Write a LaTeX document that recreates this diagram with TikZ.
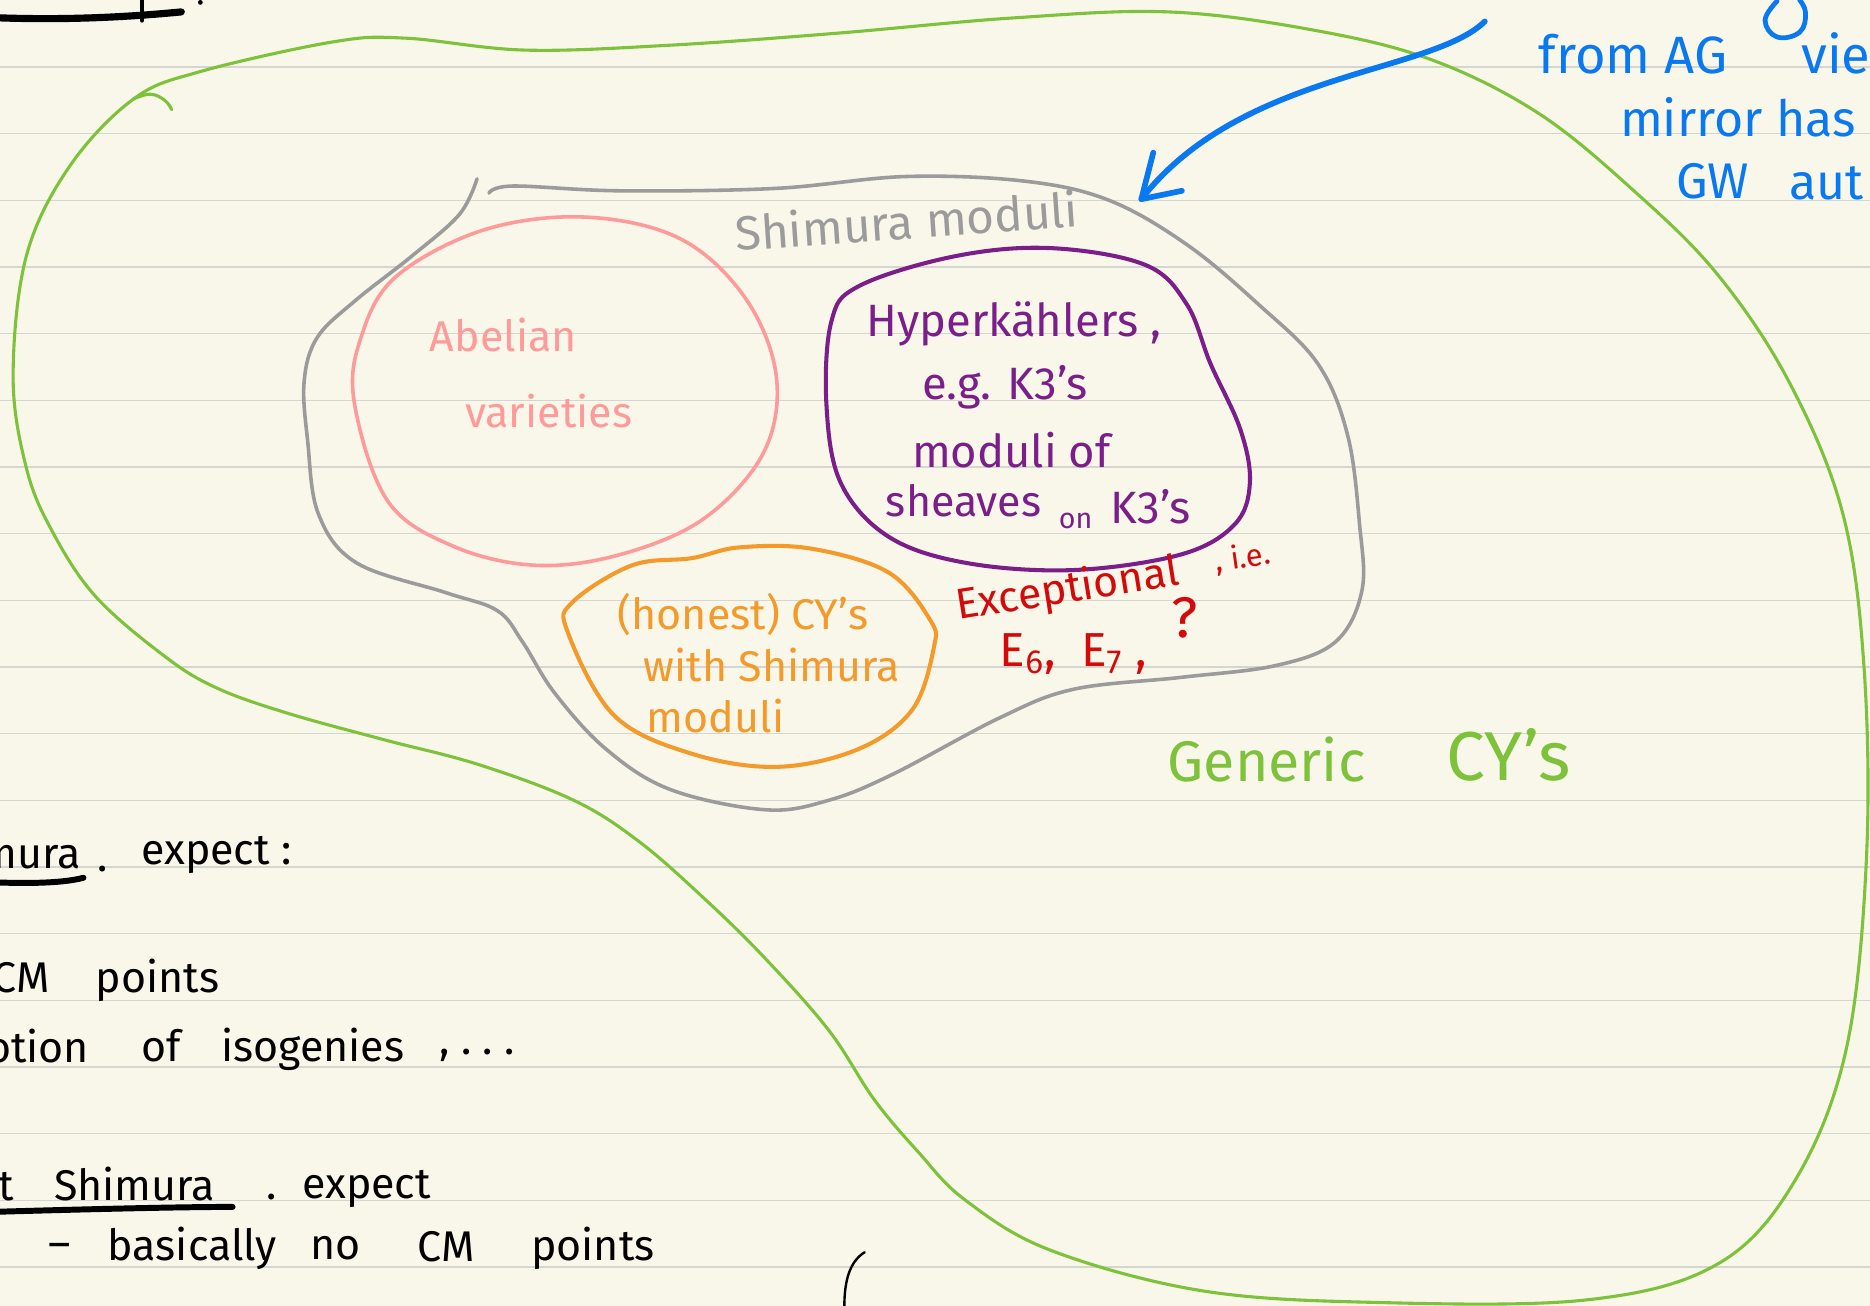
\documentclass[tikz,border=0pt]{standalone}
\usepackage{fontspec}
\setmainfont{Fira Sans}
\definecolor{bg}{HTML}{F8F7EA}
\definecolor{rule}{HTML}{D6D6D0}
\definecolor{cgreen}{HTML}{7DC23A}
\definecolor{cgray}{HTML}{9B9B9B}
\definecolor{cpink}{HTML}{FF9A9A}
\definecolor{cpurple}{HTML}{7B1E8A}
\definecolor{corange}{HTML}{F39A2B}
\definecolor{cred}{HTML}{D30A0A}
\definecolor{cblue}{HTML}{0A78F0}
\tikzset{
  pen/.style={line cap=round,line join=round},
  txt/.style={inner sep=0pt,font=\fontsize{18}{20}\selectfont},
  blk/.style={txt,text=black,font=\fontsize{18}{20}\selectfont},
}
\begin{document}
\begin{tikzpicture}[x=0.5pt,y=-0.5pt]
\useasboundingbox (0,0) rectangle (1568,1095);
\clip (0,0) rectangle (1568,1095);
\fill[bg] (0,0) rectangle (1568,1095);
\foreach \k in {0,...,18} \draw[rule,line width=0.6pt] (0,{56.2+55.9*\k}) -- (1568,{56.2+55.9*\k});

% green blob
\draw[pen,cgreen,line width=1.3pt] plot[smooth cycle,tension=0.6] coordinates {
(112,83) (168,60) (280,35) (340,32) (440,42) (560,38) (700,28) (850,15) (980,10) (1100,25) (1200,50) (1290,95) (1370,160) (1440,230) (1500,320) (1545,430) (1563,560) (1565,720) (1548,880) (1505,990) (1440,1060) (1330,1090) (1150,1092) (1006,1082) (880,1048) (809,1006) (770,966) (733,922) (695,864) (641,803) (589,752) (535,705) (481,671) (401,641) (321,620) (241,598) (182,577) (139,551) (80,500) (43,444) (22,392) (11,316) (22,215) (58,140)};
\draw[pen,cgreen,line width=1.3pt] plot[smooth,tension=0.7] coordinates {(112,83) (126,79) (138,84) (144,92)};

% gray Shimura blob
\draw[pen,cgray,line width=1.5pt] plot[smooth,tension=0.6] coordinates {
(410,162) (430,156) (520,160) (650,158) (760,148) (860,152) (930,168) (995,205) (1055,255) (1105,305) (1130,365) (1140,440) (1142,495) (1120,538) (1070,558) (990,568) (900,578) (838,602) (749,649) (695,671) (642,679) (562,662) (508,628) (465,581) (438,538) (417,512) (374,497) (299,472) (267,431) (258,370) (255,320) (266,283) (298,252) (345,215) (385,180) (400,150)};

% pink
\draw[pen,cpink,line width=1.5pt] plot[smooth cycle,tension=0.6] coordinates {
(490,182) (570,200) (625,250) (651,316) (640,380) (590,435) (520,465) (449,474) (380,458) (325,420) (297,337) (303,282) (332,232) (405,193)};

% purple
\draw[pen,cpurple,line width=1.7pt] plot[smooth cycle,tension=0.6] coordinates {
(720,240) (800,215) (880,208) (960,222) (995,255) (1015,305) (1040,360) (1048,405) (1035,440) (990,465) (900,478) (810,472) (745,450) (705,405) (693,340) (697,270)};

% orange
\draw[pen,corange,line width=1.7pt] plot[smooth cycle,tension=0.6] coordinates {
(480,505) (530,474) (580,468) (620,459) (680,460) (745,480) (780,520) (783,543) (765,595) (720,628) (652,643) (580,632) (515,600) (476,530)};

% blue arrow
\coordinate (arrS) at (1245,18);
\coordinate (arrT) at (957,167);
\draw[pen,cblue,line width=2.4pt] (arrS) .. controls (1200,62) and (1040,60) .. (arrT);
\draw[pen,cblue,line width=2.4pt] (967,128) -- (arrT) -- (991,160);

% texts
\node[txt,text=cgray,font=\fontsize{20}{22}\selectfont,rotate=4] (shim) at (760,185) {Shimura moduli};
\node[txt,text=cpink] (abel) at (422,281) {Abelian};
\node[txt,text=cpink] (var) at (460,345) {varieties};
\node[txt,text=cpurple,font=\fontsize{19}{21}\selectfont] (hk) at (850,272) {Hyperkähler{s} ,};
\node[txt,text=cpurple,font=\fontsize{19}{21}\selectfont] (eg) at (843,325) {e.g. K3's};
\node[txt,text=cpurple,font=\fontsize{19}{21}\selectfont] (mod) at (848,377) {moduli of};
\node[txt,text=cpurple,font=\fontsize{18}{20}\selectfont] (sh) at (808,420) {sheaves};
\node[txt,text=cpurple,font=\fontsize{12}{14}\selectfont] (on) at (902,437) {on};
\node[txt,text=cpurple,font=\fontsize{19}{21}\selectfont] (k3) at (965,425) {K3's};
\node[txt,text=corange] (h1) at (623,515) {(honest) CY's};
\node[txt,text=corange] (h2) at (647,558) {with Shimura};
\node[txt,text=corange] (h3) at (600,600) {moduli};
\node[txt,text=cred,rotate=9] (ex) at (895,495) {Exceptional};
\node[txt,text=cred,font=\fontsize{13}{15}\selectfont,rotate=8] (ie) at (1042,468) {, i.e.};
\node[txt,text=cred,font=\fontsize{20}{22}\selectfont] (e67) at (900,548) {E\textsubscript{6},\ \ E\textsubscript{7}\ ,};
\node[txt,text=cred,font=\fontsize{24}{26}\selectfont] (q) at (993,518) {?};
\node[txt,text=cgreen,font=\fontsize{24}{26}\selectfont] (gen) at (1062,637) {Generic};
\node[txt,text=cgreen,font=\fontsize{29}{31}\selectfont] (cy) at (1265,633) {CY's};
\node[txt,text=cblue,font=\fontsize{22}{24}\selectfont,anchor=west] (b1) at (1290,45) {from AG};
\node[txt,text=cblue,font=\fontsize{22}{24}\selectfont,anchor=west] (b1v) at (1510,45) {view};
\node[txt,text=cblue,font=\fontsize{21}{23}\selectfont,anchor=west] (b2) at (1358,98) {mirror has};
\node[txt,text=cblue,font=\fontsize{21}{23}\selectfont,anchor=west] (b3) at (1405,152) {GW};
\node[txt,text=cblue,font=\fontsize{21}{23}\selectfont,anchor=west] (b3a) at (1500,154) {aut};
\draw[pen,cblue,line width=2pt] plot[smooth,tension=0.7] coordinates {(1490,1) (1480,17) (1490,31) (1509,27) (1514,11) (1509,0)};

% black strokes and text (top-left)
\draw[pen,black,line width=3pt] (0,15) .. controls (60,17) and (110,14) .. (152,10);
\draw[pen,black,line width=2pt] (119,0) -- (119,17);
\fill (168,2) circle (2);

\node[blk,anchor=east] (t1) at (68,714) {Shimura};
\draw[pen,black,line width=2.5pt] (0,740) .. controls (30,741) and (55,740) .. (70,736);
\node[blk] (t1b) at (86,729) {.};
\node[blk,anchor=west] (t2) at (118,717) {expect :};
\node[blk,anchor=east] (t3) at (42,820) {CM};
\node[blk,anchor=west] (t4) at (80,822) {points};
\node[blk,anchor=east] (t5) at (75,877) {notion};
\node[blk,anchor=west] (t6) at (118,877) {of};
\node[blk,anchor=west] (t7) at (185,880) {isogenies};
\node[blk,anchor=west] (t8) at (368,885) {,\ .\ .\ .};
\node[blk,anchor=east] (t9) at (12,995) {not};
\node[blk,anchor=west] (t10) at (45,993) {Shimura};
\draw[pen,black,line width=2.5pt] (0,1016) .. controls (70,1014) and (150,1012) .. (195,1012);
\node[blk] (t11) at (228,1004) {.};
\node[blk,anchor=west] (t12) at (253,997) {expect};
\node[blk,anchor=west] (t13a) at (40,1049) {–};
\node[blk,anchor=west] (t13) at (90,1047) {basically};
\node[blk,anchor=west] (t14) at (260,1047) {no};
\node[blk,anchor=west] (t15) at (350,1045) {CM};
\node[blk,anchor=west] (t16) at (445,1047) {points};
\draw[pen,black,line width=1pt] (725,1050) .. controls (712,1058) and (708,1075) .. (708,1095);
\end{tikzpicture}
\end{document}
